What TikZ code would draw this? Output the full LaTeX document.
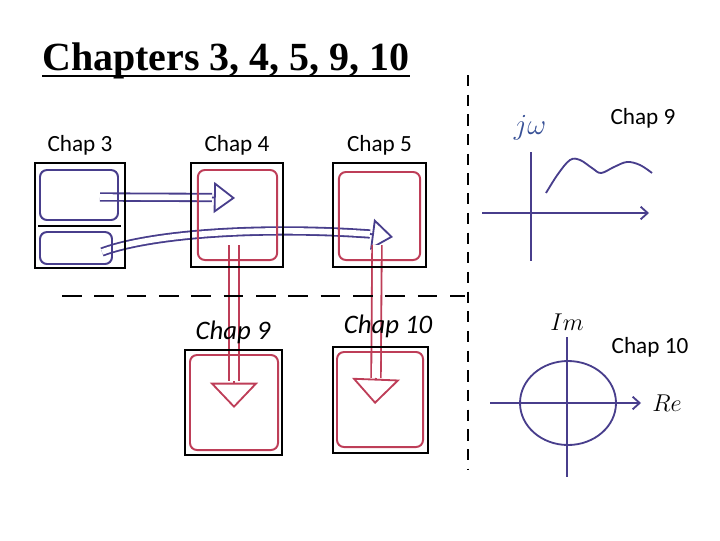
\documentclass[tikz,border=0pt]{standalone}
\usepackage{fontspec}
\setmainfont{Liberation Serif}
\newfontfamily\calfont{Carlito}
\usetikzlibrary{arrows.meta, positioning, calc, backgrounds}

\definecolor{penblue}{RGB}{72,62,140}
\definecolor{penred}{RGB}{190,62,88}
\definecolor{jwblue}{RGB}{55,80,150}

\begin{document}
\begin{tikzpicture}[x=0.025cm, y=-0.025cm, every node/.style={font=\calfont\fontsize{16.5}{18}\selectfont},
  chapbox/.style={rectangle, draw, line width=1.7pt},
  redbox/.style={rectangle, draw=penred, line width=1.4pt, rounded corners=5pt},
  bluebox/.style={rectangle, draw=penblue, line width=1.4pt, rounded corners=5pt},
  hollow/.style 2 args={draw=#1, line width=1.3pt, double=white, double distance=#2},
  bluehead/.style={draw=penblue, line width=1.3pt, -{Triangle[open, length=15pt, width=22pt]}},
  redhead/.style={draw=penred, line width=1.3pt, -{Triangle[open, length=18pt, width=34pt]}},
  plotaxis/.style={draw=penblue, line width=1.3pt},
  hand/.style={font=\calfont\itshape\fontsize{19}{21}\selectfont}]
\useasboundingbox (0,0) rectangle (720,540);

% title
\node (title) [anchor=base west, inner sep=0pt, font=\bfseries\fontsize{28.4}{30}\selectfont] at (42,70) {Chapters 3, 4, 5, 9, 10};
\draw[line width=1.4pt] ($(title.base west)+(0,6)$) -- ($(title.base east)+(0,6)$);

% dashed separators
\draw[line width=1.3pt, dash pattern=on 8pt off 6pt] (468,75) -- (468,470);
\draw[line width=1.3pt, dash pattern=on 14pt off 9pt] (62,296) -- (465,296);

% chapter boxes
\node (c3) [chapbox, minimum width=2.25cm, minimum height=2.625cm] at (80,215.5) {};
\node (up3) [bluebox, minimum width=1.95cm, minimum height=1.25cm] at (79,195) {};
\node (low3) [bluebox, minimum width=1.8cm, minimum height=0.8cm] at (76,248) {};
\draw[line width=1.3pt] (38,226) -- (121,226);

\node (c4) [chapbox, minimum width=2.3cm, minimum height=2.6cm] at (237,215) {};
\node (in4) [redbox, minimum width=1.98cm, minimum height=2.25cm] at (237.5,215) {};
\node (c5) [chapbox, minimum width=2.325cm, minimum height=2.6cm] at (379.5,215) {};
\node (in5) [redbox, minimum width=2.03cm, minimum height=2.2cm] at (379.5,216) {};
\node (c9) [chapbox, minimum width=2.425cm, minimum height=2.625cm] at (233.5,402.5) {};
\node (in9) [redbox, minimum width=2.2cm, minimum height=2.375cm] at (234,402.5) {};
\node (c10) [chapbox, minimum width=2.375cm, minimum height=2.65cm] at (380.5,400) {};
\node (in10) [redbox, minimum width=2.15cm, minimum height=2.375cm] at (380,399.5) {};

\node (l3) [above=1pt of c3] {Chap 3};
\node (l4) [above=1pt of c4] {Chap 4};
\node (l5) [above=1pt of c5] {Chap 5};
\node (h9) [hand] at (233,332) {Chap 9};
\node (h10) [hand] at (388,326) {Chap 10};

% arrow ends
\coordinate (b1s) at (100,197);
\coordinate (b1b) at (212,197.5);
\coordinate (b1e) at (235,198);
\coordinate (b2s) at (102,252);
\coordinate (b2b) at (370,234);
\coordinate (b2e) at (393,237);
\coordinate (r1s) at (234,245);
\coordinate (r1b) at (234,381);
\coordinate (r1e) at (234,408);
\coordinate (r2s) at (377,245);
\coordinate (r2b) at (376,378);
\coordinate (r2e) at (375,404);

\begin{scope}[on background layer]
\draw[hollow={penblue}{4pt}] (b1s) -- (b1b);
\draw[bluehead] (b1b) -- (b1e);
\draw[hollow={penblue}{4pt}] (b2s) .. controls (150,234) and (260,226) .. (b2b);
\draw[bluehead] (b2b) -- (b2e);
\draw[hollow={penred}{5.5pt}] (r1s) -- (r1b);
\draw[redhead] (r1b) -- (r1e);
\draw[hollow={penred}{5.5pt}] (r2s) -- (r2b);
\draw[redhead] (r2b) -- (r2e);
\end{scope}

% frequency plot
\node (chap9r) at (643,118) {Chap 9};
\node (jw) [text=jwblue, font=\fontsize{20}{22}\selectfont] at (530,128) {$j\omega$};
\draw[plotaxis] (531,152) -- (531,261);
\draw[plotaxis, -{Straight Barb[length=5pt, width=9pt]}] (482,213) -- (649,213);
\draw[plotaxis] plot[smooth, tension=0.6] coordinates {(546,193) (558,174) (570,160) (580,160) (592,168) (601,173) (614,167) (627,162) (640,165) (652,173)};

% Nyquist plot
\node (chap10r) at (650,347) {Chap 10};
\node (im) [font=\fontsize{18}{20}\selectfont] at (567,322) {$Im$};
\node (re) [font=\fontsize{18}{20}\selectfont] at (667,403) {$Re$};
\draw[plotaxis] (567,337) -- (567,477);
\draw[plotaxis, -{Straight Barb[length=5pt, width=9pt]}] (490,403) -- (641,403);
\draw[plotaxis] (568,403) ellipse [x radius=48, y radius=42];
\end{tikzpicture}
\end{document}
